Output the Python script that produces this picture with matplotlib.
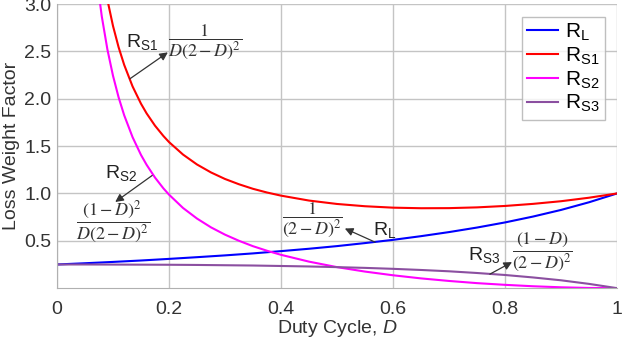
import matplotlib
matplotlib.use("Agg")
import matplotlib.pyplot as plt

plt.rcParams["font.family"] = ["Liberation Sans", "DejaVu Sans"]
plt.rcParams["mathtext.fontset"] = "custom"
plt.rcParams["mathtext.rm"] = "Liberation Sans"
plt.rcParams["mathtext.it"] = "Liberation Sans:italic"

# Duty cycle grid and loss weight factors
D = [0.0, 0.05, 0.1, 0.15, 0.2, 0.25, 0.3, 0.35, 0.4, 0.45, 0.5,
     0.55, 0.6, 0.65, 0.7, 0.75, 0.8, 0.85, 0.9, 0.95, 1.0]
R_L = [0.250, 0.263, 0.277, 0.292, 0.309, 0.327, 0.346, 0.367, 0.391, 0.416, 0.444,
       0.476, 0.510, 0.549, 0.592, 0.640, 0.694, 0.756, 0.826, 0.907, 1.000]
R_S3 = [0.250, 0.250, 0.249, 0.248, 0.247, 0.245, 0.242, 0.239, 0.234, 0.229, 0.222,
        0.214, 0.204, 0.192, 0.178, 0.160, 0.139, 0.113, 0.083, 0.045, 0.000]

# switch factors blow up near D = 0, so they start later and are sampled finer
D_S = [0.06, 0.07, 0.08, 0.09, 0.10, 0.11, 0.12, 0.135, 0.15, 0.16, 0.175, 0.19,
       0.2, 0.225, 0.25, 0.275, 0.3, 0.325, 0.35, 0.375, 0.4, 0.45, 0.5,
       0.55, 0.6, 0.65, 0.7, 0.75, 0.8, 0.85, 0.9, 0.95, 1.0]
R_S1 = [4.430, 3.835, 3.391, 3.046, 2.770, 2.545, 2.358, 2.130, 1.948, 1.846, 1.716, 1.607,
        1.543, 1.411, 1.306, 1.222, 1.153, 1.097, 1.049, 1.010, 0.977, 0.925, 0.889,
        0.865, 0.850, 0.844, 0.845, 0.853, 0.868, 0.890, 0.918, 0.955, 1.000]
R_S2 = [3.915, 3.317, 2.870, 2.522, 2.244, 2.016, 1.826, 1.594, 1.407, 1.303, 1.168, 1.054,
        0.988, 0.847, 0.735, 0.642, 0.565, 0.500, 0.443, 0.395, 0.352, 0.280, 0.222,
        0.175, 0.136, 0.103, 0.076, 0.053, 0.035, 0.020, 0.009, 0.002, 0.000]

XTICKS = [0, 0.2, 0.4, 0.6, 0.8, 1]
XTICKLABELS = ["0", "0.2", "0.4", "0.6", "0.8", "1"]
YTICKS = [0.5, 1.0, 1.5, 2.0, 2.5, 3.0]

fig = plt.figure(figsize=(6.22, 3.39), dpi=100)
ax = fig.add_axes([0.0916, 0.150, 0.9004, 0.838])

ax.plot(D, R_L, color="#0000ff", lw=1.5, label=r"$\mathrm{R}_{\mathrm{L}}$")
ax.plot(D_S, R_S1, color="#ff0000", lw=1.5, label=r"$\mathrm{R}_{\mathrm{S1}}$")
ax.plot(D_S, R_S2, color="#ff00ff", lw=1.5, label=r"$\mathrm{R}_{\mathrm{S2}}$")
ax.plot(D, R_S3, color="#8b4fa0", lw=1.5, label=r"$\mathrm{R}_{\mathrm{S3}}$")

ax.set_xlim(0, 1)
ax.set_ylim(0, 3.0)
ax.set_xticks(XTICKS)
ax.set_xticklabels(XTICKLABELS)
ax.set_yticks(YTICKS)
ax.set_yticklabels([f"{v:.1f}" for v in YTICKS])
ax.tick_params(length=0, labelsize=14, colors="#333333")
ax.tick_params(axis="x", pad=9)
ax.tick_params(axis="y", pad=4)
ax.grid(True, color="#c4c4c4", lw=1.0)
for side in ["top", "right"]:
    ax.spines[side].set_visible(False)
for side in ["left", "bottom"]:
    ax.spines[side].set_color("#b0b0b0")

ax.set_xlabel(r"Duty Cycle, $\mathit{D}$", fontsize=14, color="#333333", labelpad=0)
ax.set_ylabel("Loss Weight Factor", fontsize=14, color="#333333", labelpad=3)

leg = ax.legend(loc="upper right", fontsize=15, frameon=True, fancybox=False,
                borderaxespad=0.6, handlelength=1.45, handletextpad=0.35,
                labelspacing=0.12, borderpad=0.25)
leg.get_frame().set_edgecolor("#b0b0b0")
leg.get_frame().set_linewidth(1.0)

arrow = dict(arrowstyle="-|>", color="#333333", lw=0.9, mutation_scale=12,
             shrinkA=0, shrinkB=0)
formula = dict(fontsize=13, color="#333333", math_fontfamily="stix",
               ha="center", va="center")
name = dict(fontsize=14, color="#222222", ha="center", va="center")

# R_S1
ax.annotate("", xy=(0.198, 2.49), xytext=(0.130, 2.21), arrowprops=arrow)
ax.text(0.152, 2.60, r"$\mathrm{R}_{\mathrm{S1}}$", **name)
ax.text(0.264, 2.60, r"$\dfrac{1}{D(2-D)^2}$", **formula)

# R_S2
ax.annotate("", xy=(0.104, 0.91), xytext=(0.170, 1.19), arrowprops=arrow)
ax.text(0.114, 1.22, r"$\mathrm{R}_{\mathrm{S2}}$", **name)
ax.text(0.100, 0.70, r"$\dfrac{(1-D)^2}{D(2-D)^2}$", **formula)

# R_L
ax.annotate("", xy=(0.514, 0.63), xytext=(0.568, 0.486), arrowprops=arrow)
ax.text(0.585, 0.61, r"$\mathrm{R}_{\mathrm{L}}$", **name)
ax.text(0.457, 0.72, r"$\dfrac{1}{(2-D)^2}$", **formula)

# R_S3
ax.annotate("", xy=(0.8125, 0.275), xytext=(0.773, 0.148), arrowprops=arrow)
ax.text(0.762, 0.35, r"$\mathrm{R}_{\mathrm{S3}}$", **name)
ax.text(0.866, 0.38, r"$\dfrac{(1-D)}{(2-D)^2}$", **formula)

fig.savefig("out.png", dpi=100)
